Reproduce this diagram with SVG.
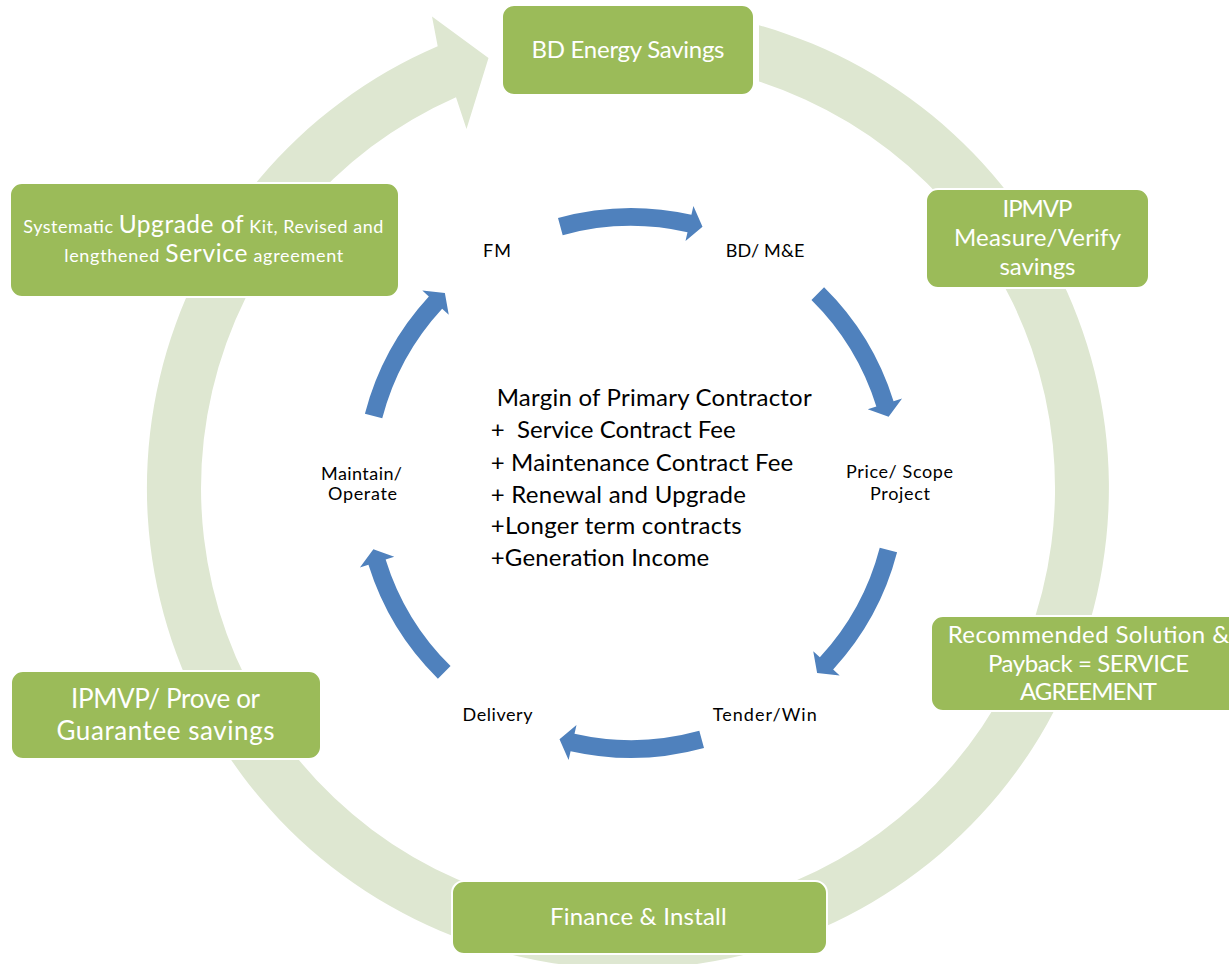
<svg xmlns="http://www.w3.org/2000/svg" width="1229" height="964" viewBox="0 0 1229 964">
  <style>
    .box { fill: #9bbb59; stroke: #ffffff; stroke-width: 2; }
    .boxtext { font-family: Lato, "Open Sans", sans-serif; font-size: 24px; fill: #ffffff; text-anchor: middle; }
    .label { font-family: Lato, "Open Sans", sans-serif; font-size: 18px; fill: #000000; text-anchor: middle; }
    .centre { font-family: Lato, "Open Sans", sans-serif; font-size: 24px; fill: #000000; }
    .ring { fill: #dee7d1; }
    .step { fill: #4f81bd; }
  </style>
  <defs>
    <!-- one curved step arrow on the inner cycle, centred on the top -->
    <path id="stepArrow" class="step" d="M558.0 217.9 A275 275 0 0 1 691.4 214.7 L693.4 206.0 L702.5 226.8 L685.5 241.1 L687.5 232.3 A257 257 0 0 0 562.7 235.2 Z"/>
  </defs>
  <rect width="1229" height="964" fill="#ffffff"/>

  <g id="connectors">
    <!-- large circular arrow behind the outer cycle -->
    <path id="outer-cycle" class="ring" d="M759 25.2 A481 481 0 1 1 437.7 46.2 L432 16.5 L488.5 58 L466.5 129 L456 97.2 A427 427 0 1 0 759 81.6 Z"/>
    <!-- inner cycle arrows -->
    <g id="inner-cycle">
      <use href="#stepArrow"/>
      <use href="#stepArrow" transform="rotate(60 631 483)"/>
      <use href="#stepArrow" transform="rotate(120 631 483)"/>
      <use href="#stepArrow" transform="rotate(180 631 483)"/>
      <use href="#stepArrow" transform="rotate(240 631 483)"/>
      <use href="#stepArrow" transform="rotate(300 631 483)"/>
    </g>
  </g>

  <!-- outer cycle nodes -->
  <g id="node-bd-energy">
    <rect class="box" x="502" y="5" width="252" height="90" rx="12"/>
    <text class="boxtext" x="628" y="58" textLength="193">BD Energy Savings</text>
  </g>
  <g id="node-ipmvp-measure">
    <rect class="box" x="926" y="189" width="223" height="99" rx="12"/>
    <text class="boxtext" x="1037.5" y="217" textLength="70">IPMVP</text>
    <text class="boxtext" x="1037.5" y="246" textLength="167">Measure/Verify</text>
    <text class="boxtext" x="1037.5" y="274.5" textLength="76">savings</text>
  </g>
  <g id="node-recommended">
    <rect class="box" x="931" y="616" width="320" height="95" rx="12"/>
    <text class="boxtext" x="1088.5" y="642.7" textLength="281.6">Recommended Solution &amp;</text>
    <text class="boxtext" x="1088.5" y="671.5" textLength="201">Payback = SERVICE</text>
    <text class="boxtext" x="1088.5" y="700" textLength="137">AGREEMENT</text>
  </g>
  <g id="node-finance">
    <rect class="box" x="452" y="881" width="375" height="73" rx="12"/>
    <text class="boxtext" x="638.3" y="925" textLength="176.7">Finance &amp; Install</text>
  </g>
  <g id="node-ipmvp-prove">
    <rect class="box" x="11" y="671" width="310" height="88" rx="12"/>
    <text class="boxtext" x="165.5" y="708.3" textLength="189" style="font-size:26px">IPMVP/ Prove or</text>
    <text class="boxtext" x="165.5" y="740" textLength="218" style="font-size:26px">Guarantee savings</text>
  </g>
  <g id="node-upgrade">
    <rect class="box" x="10" y="183" width="389" height="114" rx="12"/>
    <text class="boxtext" x="203.3" y="232.5" textLength="360" style="font-size:18px" xml:space="preserve">Systematic <tspan style="font-size:24.5px">Upgrade of</tspan> Kit, Revised and</text>
    <text class="boxtext" x="203.7" y="262.3" textLength="279" style="font-size:18px" xml:space="preserve">lengthened <tspan style="font-size:24.5px">Service</tspan> agreement</text>
  </g>

  <!-- inner cycle stage labels -->
  <g id="stage-fm">
    <text class="label" x="497" y="256.5" textLength="28">FM</text>
  </g>
  <g id="stage-bd-me">
    <text class="label" x="765" y="256.7" textLength="78.7">BD/ M&amp;E</text>
  </g>
  <g id="stage-price">
    <text class="label" x="899.5" y="477.5" textLength="107">Price/ Scope</text>
    <text class="label" x="900" y="500" textLength="60">Project</text>
  </g>
  <g id="stage-tender">
    <text class="label" x="764.7" y="720.7" textLength="104">Tender/Win</text>
  </g>
  <g id="stage-delivery">
    <text class="label" x="497.5" y="720.5" textLength="70">Delivery</text>
  </g>
  <g id="stage-maintain">
    <text class="label" x="361.5" y="479.5" textLength="81">Maintain/</text>
    <text class="label" x="362.5" y="500" textLength="69">Operate</text>
  </g>

  <!-- revenue summary in the middle -->
  <g id="summary">
    <text class="centre" x="496.7" y="406" textLength="315">Margin of Primary Contractor</text>
    <text class="centre" x="490.7" y="438.3" textLength="245" xml:space="preserve">+  Service Contract Fee</text>
    <text class="centre" x="490.7" y="470.7" textLength="302.6">+ Maintenance Contract Fee</text>
    <text class="centre" x="490.7" y="502.7" textLength="255.3">+ Renewal and Upgrade</text>
    <text class="centre" x="490.7" y="534" textLength="251">+Longer term contracts</text>
    <text class="centre" x="490.7" y="566" textLength="218.6">+Generation Income</text>
  </g>
</svg>
